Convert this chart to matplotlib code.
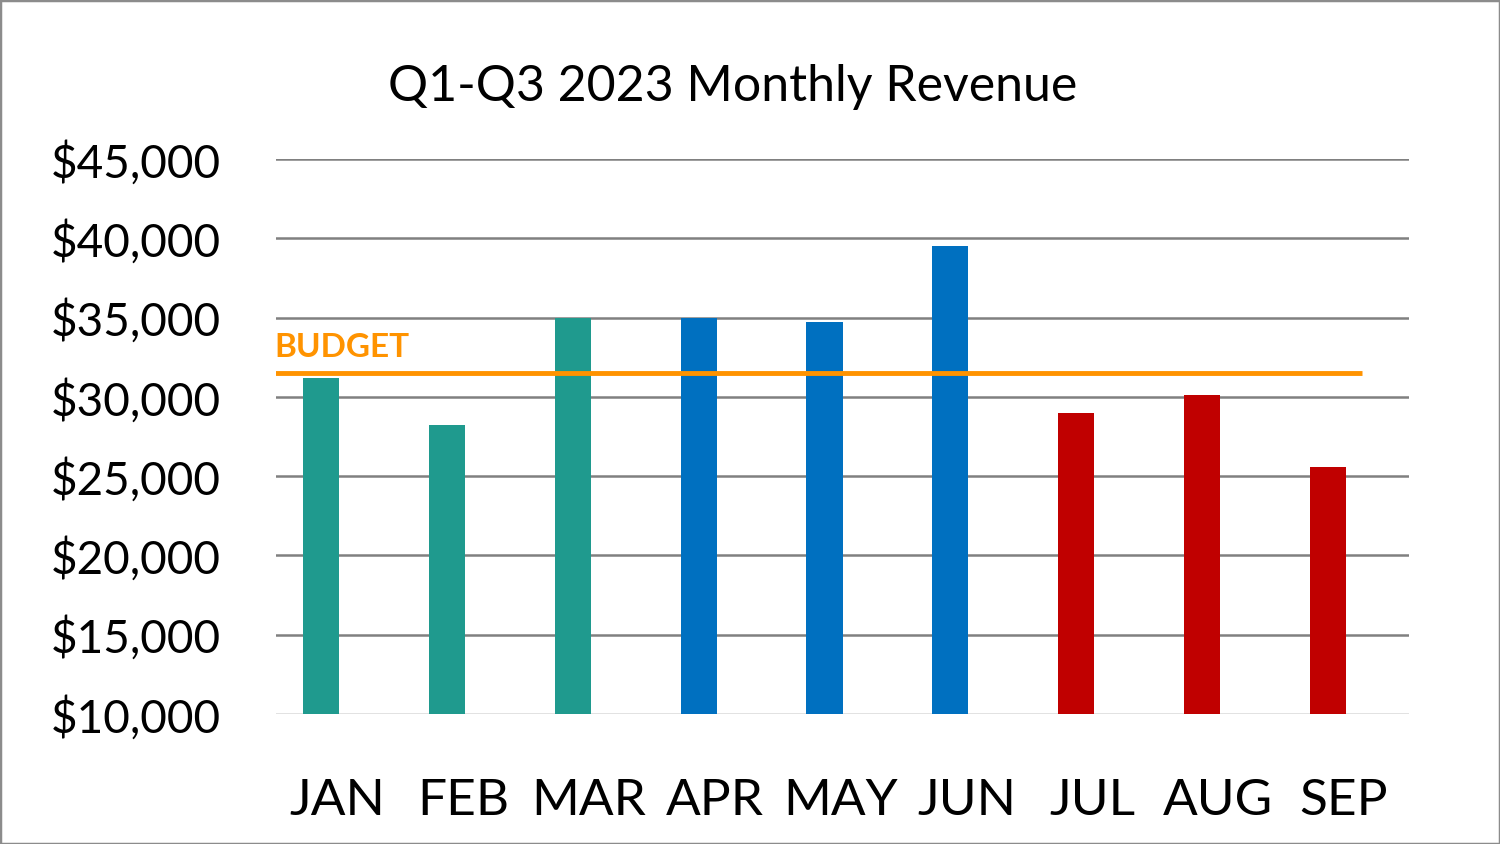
import matplotlib
matplotlib.use("Agg")
import matplotlib.pyplot as plt
from matplotlib.patches import Rectangle
from matplotlib.transforms import ScaledTranslation

months = ["JAN", "FEB", "MAR", "APR", "MAY", "JUN", "JUL", "AUG", "SEP"]
revenue = [31200, 28200, 35000, 35000, 34700, 39500, 29000, 30100, 25600]
quarter = ["Q1", "Q1", "Q1", "Q2", "Q2", "Q2", "Q3", "Q3", "Q3"]
quarter_colors = {"Q1": "#1F9A8E", "Q2": "#0070C0", "Q3": "#C00000"}
budget = 31500
yticks = [10000, 15000, 20000, 25000, 30000, 35000, 40000, 45000]
title = "Q1-Q3 2023 Monthly Revenue"

plt.rcParams["font.family"] = ["Lato", "DejaVu Sans"]

fig = plt.figure(figsize=(15, 8.44), dpi=100)
ax = fig.add_axes([276 / 1500, 130 / 844, 1133 / 1500, 555 / 844])

x = list(range(len(months)))
ax.bar(x, [v - yticks[0] for v in revenue], bottom=yticks[0], width=0.286,
       color=[quarter_colors[q] for q in quarter], zorder=3)

ax.set_xlim(-0.357, len(months) - 0.357)
ax.set_ylim(yticks[0], yticks[-1])
ax.set_yticks(yticks)
ax.set_yticklabels([f"${v:,}" for v in yticks], fontsize=33)
ax.set_xticks(x)
ax.set_xticklabels(months, fontsize=37)
ax.tick_params(axis="both", length=0)
ax.tick_params(axis="y", pad=40)
ax.tick_params(axis="x", pad=46)
shift = ScaledTranslation(16 / 100, 0, fig.dpi_scale_trans)
for lbl in ax.get_xticklabels():
    lbl.set_transform(lbl.get_transform() + shift)
for s in ax.spines.values():
    s.set_visible(False)

for t in yticks[1:]:
    ax.axhline(t, color="#808080", linewidth=1.8, zorder=1)
ax.axhline(yticks[0], color="#D9D9D9", linewidth=1.8, zorder=1)

ax.hlines(budget, -0.365, 8.27, color="#FF9300", linewidth=3.5, zorder=4)
ax.text(-0.37, budget + 690, "BUDGET", color="#FF9300", fontsize=24,
        fontweight="bold", ha="left", va="bottom")

fig.text(733 / 1500, 1 - 87 / 844, title, fontsize=36, ha="center", va="center")

fig.patches.append(Rectangle((0, 0), 1, 1, transform=fig.transFigure,
                             fill=False, edgecolor="#8C8C8C", linewidth=2.5))

fig.savefig("out.png", dpi=100)
